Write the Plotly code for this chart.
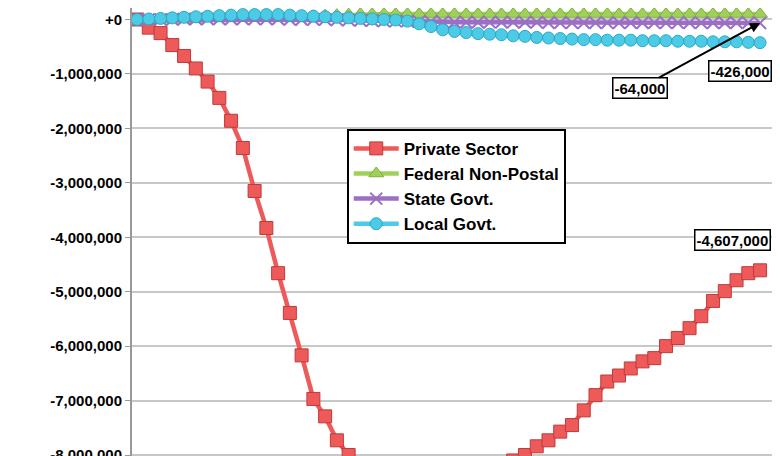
import plotly.graph_objects as go

months = list(range(54))
private = [0,-0.15,-0.25,-0.47,-0.67,-0.9,-1.14,-1.44,-1.86,-2.36,-3.15,-3.83,-4.66,-5.39,-6.17,-6.97,-7.29,-7.73,-8.0,-8.17,
           -8.3,-8.45,-8.6,-8.7,-8.78,-8.8,-8.75,-8.7,-8.6,-8.5,-8.35,-8.2,
           -8.10,-8.00,-7.84,-7.73,-7.57,-7.45,-7.18,-6.90,-6.65,-6.54,-6.41,-6.28,-6.22,-6.00,-5.85,-5.67,-5.45,-5.17,-4.99,-4.79,-4.66,-4.607]
federal = [0,0,0,0.01,0.01,0.01,0.02,0.02,0.02,0.03,0.03,0.04,0.04,0.05,0.05,0.06,0.07,0.08,0.09,0.10,
           0.10,0.10,0.10,0.10,0.10,0.10,0.10,0.10,0.10,0.10,0.10,0.10,0.10,0.10,0.10,0.10,0.10,0.10,0.10,0.10,
           0.10,0.10,0.10,0.10,0.10,0.10,0.10,0.10,0.10,0.10,0.10,0.10,0.10,0.10]
state = [0,0,0,0,0.01,0.01,0.01,0.01,0.01,0.01,0.01,0.01,0.01,0,0,0,0,-0.01,-0.01,-0.02,
         -0.02,-0.03,-0.03,-0.03,-0.04,-0.04,-0.04,-0.05,-0.05,-0.05,-0.05,-0.05,-0.05,-0.05,-0.05,-0.06,-0.06,-0.06,-0.06,-0.06,
         -0.06,-0.06,-0.06,-0.06,-0.06,-0.06,-0.06,-0.06,-0.06,-0.06,-0.06,-0.06,-0.06,-0.064]
local = [0,0.01,0.02,0.03,0.04,0.05,0.06,0.07,0.08,0.09,0.09,0.09,0.09,0.08,0.07,0.06,0.05,0.04,0.03,0.02,
         0.01,0,-0.01,-0.03,-0.08,-0.13,-0.19,-0.22,-0.24,-0.26,-0.27,-0.28,-0.30,-0.31,-0.33,-0.34,-0.35,-0.36,-0.37,-0.37,
         -0.38,-0.38,-0.38,-0.39,-0.39,-0.39,-0.40,-0.40,-0.40,-0.41,-0.41,-0.41,-0.42,-0.426]
tick_vals = [0,-1,-2,-3,-4,-5,-6,-7,-8]
tick_text = ["+0","-1,000,000","-2,000,000","-3,000,000","-4,000,000","-5,000,000","-6,000,000","-7,000,000","-8,000,000"]

M = 1e6
fig = go.Figure()
def add(name, vals, color, edge, symbol, size):
    fig.add_trace(go.Scatter(x=months, y=[v*M for v in vals], name=name, mode="lines+markers",
        line=dict(color=color, width=4.5),
        marker=dict(symbol=symbol, size=size, color=color, line=dict(color=edge, width=1))))
add("Private Sector", private, "#ee5a5a", "#c03a3a", "square", 13)
add("Federal Non-Postal", federal, "#9fd15a", "#7fb040", "triangle-up", 13)
add("State Govt.", state, "#9a6fc4", "#7a4fa4", "x-thin-open", 12)
add("Local Govt.", local, "#4ccbe6", "#2aa8c8", "circle", 12)
fig.data[2].marker.line = dict(color="#9a6fc4", width=2)

fig.update_layout(
    width=780, height=456, margin=dict(l=124, r=15, t=0, b=0, autoexpand=False),
    plot_bgcolor="white", paper_bgcolor="white",
    font=dict(family="Liberation Sans, Arial", size=14, color="black"),
    xaxis=dict(range=[-0.43, 54.1], showgrid=False, showticklabels=False, zeroline=False, automargin=False),
    yaxis=dict(range=[-8.165*M, 0.211*M], tickvals=[v*M for v in tick_vals], ticktext=tick_text,
               tickfont=dict(size=15, family="Liberation Sans, Arial", weight="bold"), automargin=False,
               gridcolor="#c8c8c8", gridwidth=1.5, zeroline=False, showline=True, linecolor="#999", linewidth=2,
               ticks="outside", ticklen=5, tickcolor="#999"),
    legend=dict(x=0.335, y=0.735, xanchor="left", yanchor="top", bgcolor="white",
                bordercolor="black", borderwidth=2, font=dict(size=17, weight="bold"),
                tracegroupgap=12, itemwidth=45),
    showlegend=True,
)
fig.add_shape(type="line", xref="paper", yref="paper", x0=1.011, x1=1.011, y0=0, y1=1,
              line=dict(color="black", width=3))
box = dict(bgcolor="white", bordercolor="black", borderwidth=1.5, font=dict(size=15, weight="bold"))
fig.add_annotation(x=53, y=state[-1]*M, ax=-120, ay=65, text="-64,000", showarrow=True,
                   arrowhead=2, arrowwidth=2, arrowcolor="black", **box)
fig.add_annotation(x=53, y=local[-1]*M, text="-426,000", showarrow=False,
                   xshift=-20, yshift=-28, **box)
fig.add_annotation(x=53, y=private[-1]*M, text="-4,607,000", showarrow=False,
                   xshift=-28, yshift=30, **box)
fig.write_html("out.html")
